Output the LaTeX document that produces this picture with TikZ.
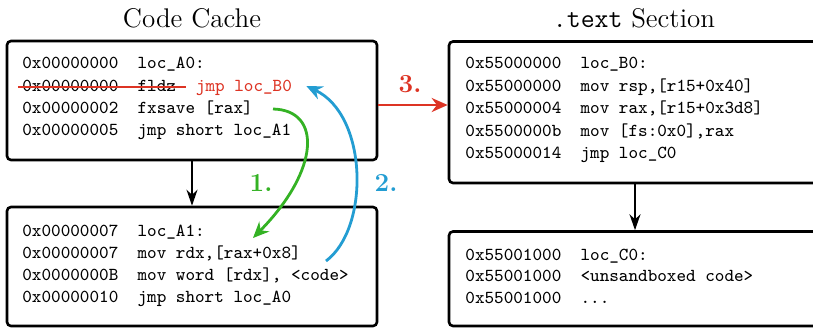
\documentclass[tikz,border=0pt]{standalone}
\usetikzlibrary{arrows.meta}
\definecolor{cred}{RGB}{221,52,36}
\definecolor{cgreen}{RGB}{52,178,36}
\definecolor{cblue}{RGB}{35,157,210}
\begin{document}
\begin{tikzpicture}[x=0.5pt,y=-0.5pt,
  box/.style={draw, line width=1.3pt, rounded corners=2pt, minimum width=185pt, inner sep=0pt},
  ln/.style={anchor=west, inner sep=0pt, font=\fontsize{9.14}{11}\selectfont\ttfamily, text height=6.4pt, text depth=1.8pt},
  ttl/.style={inner sep=0pt, font=\fontsize{13.5}{15}\selectfont},
  num/.style={inner sep=0pt, font=\fontsize{13}{15}\selectfont\bfseries},
  flow/.style={-{Stealth[length=8pt,width=5.5pt]}, line width=1.1pt},
  step1/.style={-{Stealth[length=8pt,width=7pt]}, line width=1.4pt}
]
\useasboundingbox (0,0) rectangle (813,328);
\clip (0,0) rectangle (813,328);

% titles
\node[ttl] (t1) at (192,18) {Code Cache};
\node[ttl] (t2) at (634,18) {\texttt{.text} Section};

% boxes
\node[box, minimum height=59.5pt] (A) at (192,100.5) {};
\node[box, minimum height=59.5pt] (A1) at (192,266.5) {};
\node[box, minimum height=70.75pt] (B) at (634,112.25) {};
\node[box, minimum height=47.25pt] (C) at (634,278.75) {};

% box A
\node[ln] (a1) at (22,64) {0x00000000\ \ loc\_A0:};
\node[ln] (a2) at (22,87) {0x00000000\ \ fldz};
\node[ln, text=cred, anchor=west] (a2r) at ([xshift=9.6pt]a2.east) {jmp loc\_B0};
\node[ln] (a3) at (22,109) {0x00000002\ \ fxsave [rax]};
\node[ln] (a4) at (22,131) {0x00000005\ \ jmp short loc\_A1};
\draw[cred, line width=0.7pt] ([xshift=-2pt]a2.west) -- ([xshift=4.7pt]a2.east);

% box A1
\node[ln] (d1) at (22,232) {0x00000007\ \ loc\_A1:};
\node[ln] (d2) at (22,254) {0x00000007\ \ mov rdx,[rax+0x8]};
\node[ln] (d3) at (22,276) {0x0000000B\ \ mov word [rdx], <code>};
\node[ln] (d4) at (22,298) {0x00000010\ \ jmp short loc\_A0};

% box B
\node[ln] (b1) at (465,64) {0x55000000\ \ loc\_B0:};
\node[ln] (b2) at (465,87) {0x55000000\ \ mov rsp,[r15+0x40]};
\node[ln] (b3) at (465,109) {0x55000004\ \ mov rax,[r15+0x3d8]};
\node[ln] (b4) at (465,132) {0x5500000b\ \ mov [fs:0x0],rax};
\node[ln] (b5) at (465,154) {0x55000014\ \ jmp loc\_C0};

% box C
\node[ln] (c1) at (465,256) {0x55001000\ \ loc\_C0:};
\node[ln] (c2) at (465,277) {0x55001000\ \ <unsandboxed code>};
\node[ln] (c3) at (465,299) {0x55001000\ \ ...};

% black flow arrows
\draw[flow] (A.south) -- (A1.north);
\draw[flow] (B.south -| 635,0) -- (C.north -| 635,0);

% step 3 (red)
\draw[step1, cred] (A.east |- 0,105) -- (B.west |- 0,105);
\node[num, text=cred] (n3) at (410,84) {3.};

% step 1 (green)
\coordinate (g1) at (273,109);
\coordinate (g2) at (253,238);
\draw[step1, cgreen] (g1) .. controls (322,110) and (320,170) .. (g2);
\node[num, text=cgreen] (n1) at (261,183) {1.};

% step 2 (blue)
\coordinate (u1) at (326,261);
\coordinate (u2) at ([xshift=7pt,yshift=0.5pt]a2r.east);
\draw[step1, cblue] (u1) .. controls (370,228) and (368,115) .. (u2);
\node[num, text=cblue] (n2) at (386,183) {2.};
\end{tikzpicture}
\end{document}
